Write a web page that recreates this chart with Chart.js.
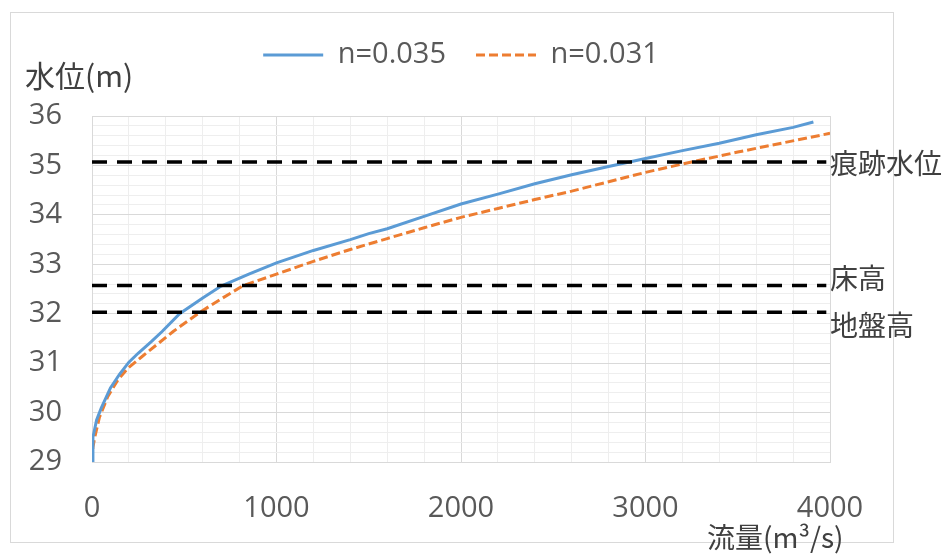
<!DOCTYPE html>
<html lang="ja">
<head>
<meta charset="utf-8">
<title>水位-流量</title>
<script src="https://cdn.jsdelivr.net/npm/chart.js@4.4.1/dist/chart.umd.min.js"></script>
<style>
  html, body { margin: 0; padding: 0; background: #fff; }
  #wrap { width: 946px; height: 554px; }
</style>
</head>
<body>
<div id="wrap"><canvas id="hqChart" width="946" height="554"></canvas></div>
<script>
// n=0.035 の H-Q 曲線 (流量 m3/s, 水位 m)
const flowN035 = [0, 5, 25, 50, 100, 150, 200, 250, 320, 380, 475, 600, 700, 850, 1000, 1200, 1400, 1500, 1600, 1800, 2000, 2200, 2400, 2600, 2800, 3000, 3200, 3400, 3600, 3800, 3910];
const levelN035 = [29.0, 29.5, 29.85, 30.09, 30.5, 30.78, 31.02, 31.2, 31.43, 31.64, 32.0, 32.32, 32.56, 32.8, 33.03, 33.28, 33.5, 33.62, 33.72, 33.97, 34.22, 34.42, 34.63, 34.81, 34.98, 35.14, 35.3, 35.45, 35.62, 35.77, 35.88];

// n=0.031 の H-Q 曲線
const flowN031 = [0, 5, 15, 40, 85, 140, 195, 270, 360, 440, 585, 700, 820, 1000, 1200, 1400, 1600, 1800, 2000, 2200, 2400, 2600, 2800, 3000, 3250, 3500, 3750, 4000];
const levelN031 = [29.0, 29.3, 29.5, 29.9, 30.32, 30.66, 30.9, 31.13, 31.4, 31.64, 32.03, 32.3, 32.57, 32.8, 33.06, 33.3, 33.52, 33.74, 33.95, 34.13, 34.31, 34.48, 34.67, 34.86, 35.07, 35.27, 35.46, 35.65];

// 基準水位 (破線)
const refLabels = ['痕跡水位', '床高', '地盤高'];
const refLevels = [35.07, 32.57, 32.03];
const refFlowRange = [0, 3980];

// 軸の目盛り
const xTickLabels = [0, 1000, 2000, 3000, 4000];
const yTickLabels = [29, 30, 31, 32, 33, 34, 35, 36];

document.addEventListener('DOMContentLoaded', function() {
    Chart.defaults.font.family = "'Open Sans', 'Noto Sans CJK JP', sans-serif";
    Chart.defaults.color = '#595959';

    const textFont = "28px 'Noto Sans CJK JP', sans-serif";
    const titleFont = "30px 'Noto Sans CJK JP', sans-serif";
    const refLabelShift = [1, -7, 13];

    function toPoints(xs, ys) {
        return xs.map((x, i) => ({ x: x, y: ys[i] }));
    }

    // 破線を先に入れる → 上に描かれる
    const datasets = refLabels.map((name, i) => ({
        label: name,
        data: toPoints(refFlowRange, refFlowRange.map(() => refLevels[i])),
        borderColor: '#000000',
        borderWidth: 3.5,
        borderDash: [15, 10],
        pointRadius: 0,
        fill: false
    }));
    datasets.push({
        label: 'n=0.035',
        data: toPoints(flowN035, levelN035),
        borderColor: '#5B9BD5',
        borderWidth: 3,
        pointRadius: 0,
        tension: 0,
        fill: false
    });
    datasets.push({
        label: 'n=0.031',
        data: toPoints(flowN031, levelN031),
        borderColor: '#ED7D31',
        borderWidth: 3,
        borderDash: [9, 4],
        pointRadius: 0,
        tension: 0,
        fill: false
    });

    // 凡例と描画領域の間を空ける
    const legendGap = {
        id: 'legendGap',
        beforeInit(chart) {
            const originalFit = chart.legend.fit;
            chart.legend.fit = function() {
                originalFit.bind(chart.legend)();
                this.height += 36.5;
            };
        }
    };

    // 外枠・軸タイトル・基準線ラベル
    const annotationText = {
        id: 'annotationText',
        beforeDraw(chart) {
            const c = chart.ctx;
            c.save();
            c.fillStyle = '#ffffff';
            c.fillRect(0, 0, chart.width, chart.height);
            c.strokeStyle = '#d9d9d9';
            c.lineWidth = 1;
            c.strokeRect(10.5, 12.5, 883, 530);
            c.restore();
        },
        afterDraw(chart) {
            const c = chart.ctx;
            const area = chart.chartArea;
            const yScale = chart.scales.y;
            c.save();
            c.fillStyle = '#404040';
            c.textBaseline = 'middle';
            c.textAlign = 'left';
            c.font = titleFont;
            c.fillText('水位(m)', 25, 76);
            c.font = textFont;
            c.fillText('流量(m³/s)', 707, 537);
            refLabels.forEach((name, i) => {
                c.fillText(name, area.right, yScale.getPixelForValue(refLevels[i]) + refLabelShift[i]);
            });
            c.restore();
        }
    };

    const ctx = document.getElementById('hqChart').getContext('2d');
    new Chart(ctx, {
        type: 'line',
        data: { datasets: datasets },
        options: {
            responsive: false,
            animation: false,
            layout: { padding: { top: 10.5, right: 116, bottom: 0, left: 0 } },
            scales: {
                x: {
                    type: 'linear',
                    min: xTickLabels[0],
                    max: xTickLabels[xTickLabels.length - 1],
                    afterFit: scale => { scale.height = 92; },
                    ticks: {
                        stepSize: 200,
                        autoSkip: false,
                        maxRotation: 0,
                        padding: 29,
                        font: { size: 29 },
                        color: '#595959',
                        callback: value => xTickLabels.includes(value) ? String(value) : ''
                    },
                    grid: {
                        drawTicks: false,
                        color: c => (c.tick && xTickLabels.includes(c.tick.value)) ? '#d9d9d9' : '#eeeeee'
                    },
                    border: { color: '#d9d9d9' }
                },
                y: {
                    min: yTickLabels[0],
                    max: yTickLabels[yTickLabels.length - 1],
                    afterFit: scale => { scale.width = 92; },
                    ticks: {
                        stepSize: 0.2,
                        autoSkip: false,
                        padding: 30,
                        font: { size: 29 },
                        color: '#595959',
                        callback: value => yTickLabels.includes(value) ? String(value) : ''
                    },
                    grid: {
                        drawTicks: false,
                        color: c => (c.tick && yTickLabels.includes(c.tick.value)) ? '#d9d9d9' : '#eeeeee'
                    },
                    border: { color: '#d9d9d9' }
                }
            },
            plugins: {
                legend: {
                    position: 'top',
                    fullSize: false,
                    labels: {
                        usePointStyle: true,
                        pointStyleWidth: 60,
                        padding: 30,
                        font: { size: 29 },
                        color: '#595959',
                        generateLabels(chart) {
                            return chart.data.datasets.map((ds, i) => ({
                                text: ds.label,
                                datasetIndex: i,
                                strokeStyle: ds.borderColor,
                                fillStyle: ds.borderColor,
                                lineWidth: ds.borderWidth,
                                lineDash: ds.borderDash || [],
                                pointStyle: 'line',
                                hidden: false,
                                fontColor: '#595959'
                            })).filter(item => item.datasetIndex >= refLabels.length);
                        }
                    }
                },
                tooltip: { enabled: false }
            }
        },
        plugins: [legendGap, annotationText]
    });
});
</script>
</body>
</html>
